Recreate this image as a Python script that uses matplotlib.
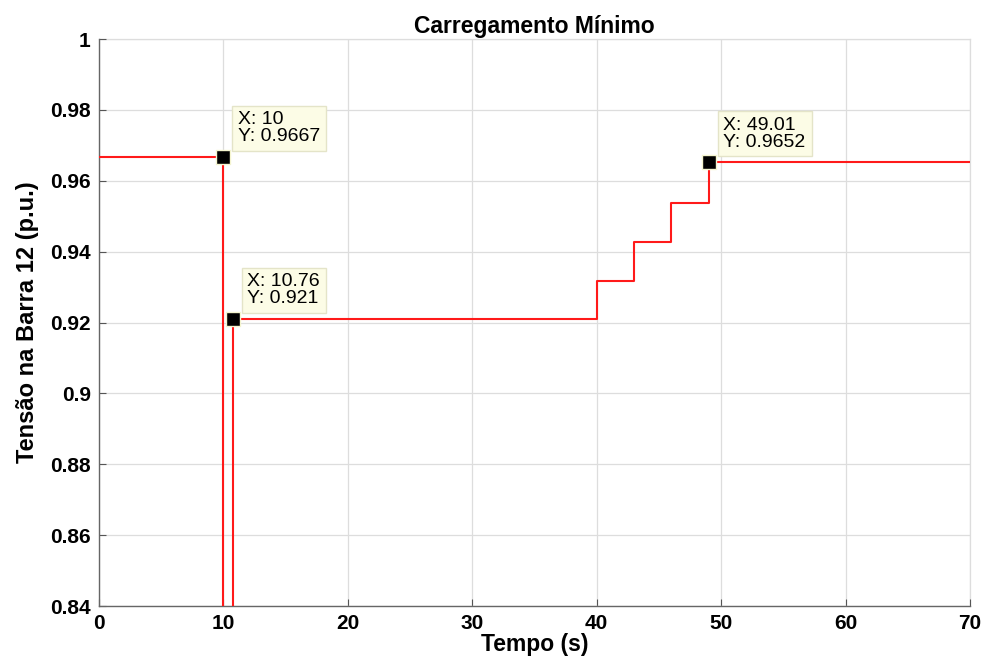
import numpy as np
import matplotlib.pyplot as plt

plt.rcParams['font.family'] = ['Liberation Sans', 'DejaVu Sans']

# tensão na barra 12 (degraus)
t = [0, 10, 10, 10.76, 10.76, 40, 40, 43, 43, 46, 46, 49.01, 49.01, 70]
v = [0.9667, 0.9667, 0.80, 0.80, 0.921, 0.921, 0.9317, 0.9317, 0.9427, 0.9427,
     0.9537, 0.9537, 0.9652, 0.9652]

tip_x = [10, 10.76, 49.01]
tip_y = [0.9667, 0.921, 0.9652]
tip_labels = ['X: 10\nY: 0.9667', 'X: 10.76\nY: 0.921', 'X: 49.01\nY: 0.9652']

xticks = np.arange(0, 71, 10)
yticks = [0.84, 0.86, 0.88, 0.9, 0.92, 0.94, 0.96, 0.98, 1]
yticklabels = ['0.84', '0.86', '0.88', '0.9', '0.92', '0.94', '0.96', '0.98', '1']

fig = plt.figure(figsize=(9.86, 6.57), dpi=100)
ax = fig.add_axes([0.1004, 0.0776, 0.8834, 0.863])

ax.plot(t, v, color='#ff1a1a', lw=1.5, zorder=3)
ax.set_xlim(0, 70)
ax.set_ylim(0.84, 1)

ax.set_xticks(xticks)
ax.set_yticks(yticks)
ax.set_yticklabels(yticklabels)
ax.tick_params(direction='in', length=5, width=0.8, color='#555555',
               labelsize=15, pad=6)
for lab in ax.get_xticklabels() + ax.get_yticklabels():
    lab.set_fontweight('bold')

ax.grid(True, color='#dddddd', lw=0.9)
ax.set_axisbelow(True)
for s in ['top', 'right']:
    ax.spines[s].set_visible(False)
for s in ['left', 'bottom']:
    ax.spines[s].set_color('#666666')
    ax.spines[s].set_linewidth(1.0)

# linhas de grade nas bordas superior e direita
ax.axhline(1, color='#dddddd', lw=0.9, zorder=0, clip_on=False)
ax.axvline(70, color='#dddddd', lw=0.9, zorder=0, clip_on=False)

ax.set_xlabel('Tempo (s)', fontsize=16.5, fontweight='bold', labelpad=0)
ax.set_ylabel('Tensão na Barra 12 (p.u.)', fontsize=17, fontweight='bold', labelpad=8)
ax.set_title('Carregamento Mínimo', fontsize=16.5, fontweight='bold', pad=4)

# datatips
ax.plot(tip_x, tip_y, 's', ms=10, color='black', mec='#f5f5d0', mew=1, zorder=5)
for x, y, s in zip(tip_x, tip_y, tip_labels):
    ax.annotate(s, (x, y), xytext=(10.5, 8.5), textcoords='offset points',
                fontsize=14, linespacing=0.98, va='bottom', ha='left',
                bbox=dict(boxstyle='square,pad=0.3', fc='#fcfce6', ec='#e4e4c8', lw=1),
                zorder=6)

fig.savefig('out.png', dpi=100)
